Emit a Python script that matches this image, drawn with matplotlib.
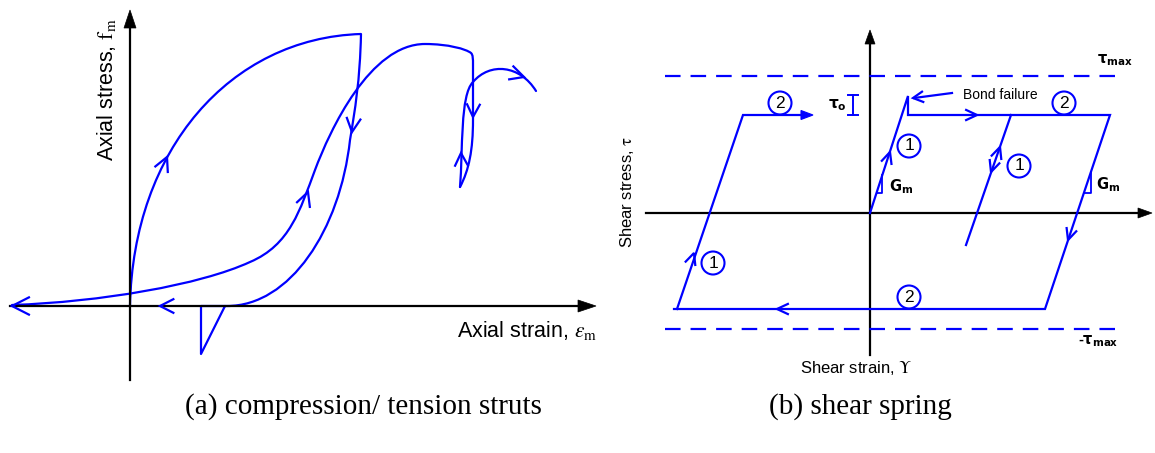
import numpy as np
import matplotlib
matplotlib.use('Agg')
import matplotlib.pyplot as plt
from matplotlib.path import Path
from matplotlib.patches import PathPatch, Circle, Polygon

plt.rcParams['font.family'] = ['Liberation Sans', 'DejaVu Sans']
BLUE = '#0000ff'

# ---------------- (a) compression / tension struts ----------------
# units: strain / stress measured from the origin, start point then segments
a_envelope = [(0, 0),
              ('C', (3, 156), (100, 268), (231, 272)),
              ('C', (230, 226), (225, 196), (220, 166)),
              ('C', (210, 76), (160, 0), (97, 0)),
              ('L', (71, 0)), ('L', (71, -48)), ('L', (95, 0))]
a_reload = [(-118, 1),
            ('C', (-30, 4), (70, 21), (120, 44)),
            ('C', (160, 61), (170, 96), (185, 136)),
            ('C', (200, 176), (240, 262), (295, 262)),
            ('C', (318, 262), (336, 257), (341, 253)),
            ('C', (343, 251), (343, 248), (343, 240)),
            ('L', (343, 186)),
            ('C', (343, 156), (339, 136), (330, 119))]
a_cycle = [(330, 119),
           ('C', (333, 156), (330, 211), (343, 224)),
           ('C', (360, 244), (390, 241), (406, 215))]
# arrow heads: x, y, direction (deg), length
a_arrows = [(37, 149, 66, 15), (222, 174, -97, 15), (178, 114, 70, 15),
            (-118, 0, 180, 19), (30, 0, 180, 15), (343, 189, -92, 14),
            (331, 153, 92, 14), (394, 229, -18, 15)]

# ---------------- (b) shear spring ----------------
b_outer = [(-196, -96), (175, -96), (240, 98), (38, 98), (38, 117), (0, 0)]
b_left = [(-193, -96), (-127, 98), (-64, 98)]
b_inner = [(141, 98), (96, -32)]
tau_max, tau_min = 137, -116
b_arrows = [(20, 61, 72, 12), (130, 66, 71, 12), (121, 41, -109, 12),
            (198, -27, -108.5, 12), (-176, -40, 71, 12), (-93, -96, 180, 12),
            (107, 98, 0, 12)]
b_circles = [(-90, 110, '2'), (194, 110, '2'), (39, -84, '2'),
             (39, 67, '1'), (149, 47, '1'), (-157, -50, '1')]
gm_tri = [[(6.5, 20), (12, 20), (12, 38)], [(214, 20), (221, 20), (221, 41)]]


def curve(ax, spec, **kw):
    verts = [spec[0]]
    codes = [Path.MOVETO]
    for seg in spec[1:]:
        if seg[0] == 'C':
            verts += list(seg[1:])
            codes += [Path.CURVE4] * 3
        else:
            verts.append(seg[1])
            codes.append(Path.LINETO)
    ax.add_patch(PathPatch(Path(verts, codes), fill=False, ec=BLUE, lw=1.6,
                           joinstyle='round', capstyle='round'))


def vhead(ax, x, y, ang, L=13, phi=27):
    a = np.radians(ang)
    b1 = a + np.pi + np.radians(phi)
    b2 = a + np.pi - np.radians(phi)
    ax.plot([x + L * np.cos(b1), x, x + L * np.cos(b2)],
            [y + L * np.sin(b1), y, y + L * np.sin(b2)],
            color=BLUE, lw=1.6, solid_joinstyle='miter')


def axis_arrow(ax, p0, p1, hl, hw):
    p0, p1 = np.array(p0, float), np.array(p1, float)
    d = (p1 - p0) / np.linalg.norm(p1 - p0)
    n = np.array([-d[1], d[0]])
    base = p1 - d * hl
    ax.plot([p0[0], base[0]], [p0[1], base[1]], color='black', lw=1.6)
    ax.add_patch(Polygon([p1, base + n * hw / 2, base - n * hw / 2],
                         closed=True, fc='black', ec='black', lw=0.5))


W, H = 1155, 453
fig = plt.figure(figsize=(W / 100, H / 100), dpi=100)

# panel (a): 1 unit = 1 px, origin at px (130, 306)
axa = fig.add_axes([0, (H - 390) / H, 600 / W, 390 / H])
axa.set_xlim(-130, 470)
axa.set_ylim(-84, 306)
axa.axis('off')
axis_arrow(axa, (-120, 0), (466, 0), 18, 12)
axis_arrow(axa, (0, -74), (0, 296), 18, 12)
for spec in (a_envelope, a_reload, a_cycle):
    curve(axa, spec)
for x, y, ang, L in a_arrows:
    vhead(axa, x, y, ang, L)
axa.text(-23, 288, r'Axial stress, $\mathrm{f}_\mathrm{m}$', rotation=90,
         ha='center', va='top', fontsize=15.5, math_fontfamily='stix')
axa.text(467, -24, r'Axial strain, $\varepsilon_\mathrm{m}$', ha='right',
         va='center', fontsize=15.5, math_fontfamily='stix')

# panel (b): origin at px (870, 213)
axb = fig.add_axes([600 / W, (H - 390) / H, 555 / W, 390 / H])
axb.set_xlim(-270, 285)
axb.set_ylim(-177, 213)
axb.axis('off')
axis_arrow(axb, (-224, 0), (282, 0), 14, 10)
axis_arrow(axb, (0, -142), (0, 183), 14, 10)
for ty in (tau_max, tau_min):
    axb.plot([-205, 255], [ty, ty], color=BLUE, lw=1.6, dashes=(7, 4.5))
for pts in (b_outer, b_left, b_inner):
    xs, ys = zip(*pts)
    axb.plot(xs, ys, color=BLUE, lw=1.6, solid_joinstyle='miter')
axb.add_patch(Polygon([(-57, 98), (-69, 102.5), (-69, 93.5)], closed=True,
                      fc=BLUE, ec=BLUE, lw=0.8))
for x, y, ang, L in b_arrows:
    vhead(axb, x, y, ang, L, phi=25)
# bond failure pointer
axb.plot([82, 44], [120, 115], color=BLUE, lw=1.6)
vhead(axb, 43, 115, 187, 11, phi=28)
for x, y, s in b_circles:
    axb.add_patch(Circle((x, y), 11.5, fill=False, ec=BLUE, lw=1.5))
    axb.text(x, y, s, ha='center', va='center', fontsize=12.5)
for tri in gm_tri:
    xs, ys = zip(*tri)
    axb.plot(xs, ys, color=BLUE, lw=1.3)
# tau_o bracket
axb.plot([-17, -17], [98, 118], color=BLUE, lw=1.4)
axb.plot([-22, -12], [98, 98], color=BLUE, lw=1.4)
axb.plot([-22, -12], [118, 118], color=BLUE, lw=1.4)

axb.text(-33, 108, r'$\mathbf{\tau_o}$', ha='center', va='center', fontsize=11,
         math_fontfamily='dejavusans')
axb.text(31, 26, r'$\mathbf{G_m}$', ha='center', va='center', fontsize=10.5,
         math_fontfamily='dejavusans')
axb.text(238, 28, r'$\mathbf{G_m}$', ha='center', va='center', fontsize=10.5,
         math_fontfamily='dejavusans')
axb.text(245, 153, r'$\mathbf{\tau_{max}}$', ha='center', va='center',
         fontsize=10.5, math_fontfamily='dejavusans')
axb.text(228, -128, r'-$\mathbf{\tau_{max}}$', ha='center', va='center',
         fontsize=10.5, fontweight='bold', math_fontfamily='dejavusans')
axb.text(93, 118, 'Bond failure', ha='left', va='center', fontsize=10)
axb.text(-243, 21, r'Shear stress, $\mathrm{\tau}$', rotation=90, ha='center',
         va='center', fontsize=12, math_fontfamily='stix')
axb.text(-70, -155, r'Shear strain, $\Upsilon$', ha='left', va='center',
         fontsize=12, math_fontfamily='stix')

fig.text(363 / W, 1 - 407 / H, '(a) compression/ tension struts', ha='center',
         va='center', fontsize=21, family='Liberation Serif')
fig.text(860 / W, 1 - 407 / H, '(b) shear spring', ha='center', va='center',
         fontsize=21, family='Liberation Serif')

fig.savefig('out.png', dpi=100)
